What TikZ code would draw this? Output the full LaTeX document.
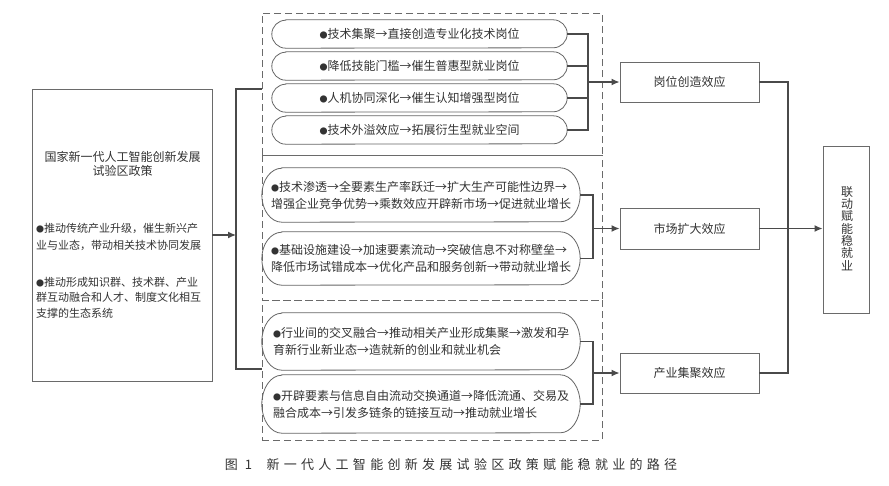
\documentclass[tikz,border=0pt]{standalone}
\usepackage{fontspec}
\setmainfont{Noto Sans CJK SC}
\newfontfamily\capfont[LetterSpace=33]{Noto Sans CJK SC}
\usetikzlibrary{arrows.meta,calc}
\definecolor{ln}{HTML}{4A4A4A}
\definecolor{bx}{HTML}{6A6A6A}
\definecolor{pl}{HTML}{666666}
\definecolor{tx}{HTML}{333333}
\newcommand{\bul}{{\fontsize{8}{8}\selectfont ●}}
\newcommand{\pillnode}[7]{%
  \node[ptxt, minimum width=#4pt, minimum height=#5pt, align=left] (#1) at (#2,#3) {#7};
  \draw[pillline] ([xshift=#6pt]#1.north west) -- ([xshift=-#6pt]#1.north east)
    arc[start angle=90,end angle=-90,x radius=#6pt,y radius=#5pt/2]
    -- ([xshift=#6pt]#1.south west)
    arc[start angle=270,end angle=90,x radius=#6pt,y radius=#5pt/2] -- cycle;}
\begin{document}
\begin{tikzpicture}[x=1pt,y=-1pt,
  sbox/.style={draw=bx, line width=0.9pt, inner sep=0pt, text=tx, font=\fontsize{12}{14}\selectfont},
  dbox/.style={draw=bx, dash pattern=on 7pt off 4pt, line width=0.9pt, inner sep=0pt},
  ptxt/.style={text=tx, inner sep=0pt, font=\fontsize{12}{17}\selectfont},
  ltxt/.style={text=tx, inner sep=0pt, align=left, anchor=west},
  pillline/.style={draw=pl, line width=0.8pt},
  conn/.style={draw=ln, line width=1.3pt},
  arr/.style={conn, -{Latex[length=8pt,width=7pt]}}]
\useasboundingbox[fill=white] (0,0) rectangle (889,485);

% left policy box
\node[sbox, minimum width=180pt, minimum height=292pt] (lb) at (122,235) {};
\node[text=tx, inner sep=0pt, align=center, font=\fontsize{12}{14.5}\selectfont] (ltitle) at (122.5,164) {国家新一代人工智能创新发展\\试验区政策};
\node[ltxt, font=\fontsize{11}{17.5}\selectfont] (lb1) at (36,237) {\bul 推动传统产业升级，催生新兴产\\业与业态，带动相关技术协同发展};
\node[ltxt, font=\fontsize{11}{15.5}\selectfont] (lb2) at (36,297.5) {\bul 推动形成知识群、技术群、产业\\群互动融合和人才、制度文化相互\\支撑的生态系统};

% dashed groups
\node[dbox, minimum width=340pt, minimum height=142pt] (g1) at (432,84) {};
\node[dbox, minimum width=340pt, minimum height=145pt] (g2) at (432,227.5) {};
\node[dbox, minimum width=340pt, minimum height=140pt] (g3) at (432,370) {};

% group 1 pills
\pillnode{p11}{419.5}{34}{295}{28}{14}{\bul 技术集聚→直接创造专业化技术岗位}
\pillnode{p12}{419.5}{66}{295}{28}{14}{\bul 降低技能门槛→催生普惠型就业岗位}
\pillnode{p13}{419.5}{98}{295}{28}{14}{\bul 人机协同深化→催生认知增强型岗位}
\pillnode{p14}{419.5}{130}{295}{28}{14}{\bul 技术外溢效应→拓展衍生型就业空间}

% group 2 pills
\pillnode{p21}{421}{195}{318}{54}{20}{\bul 技术渗透→全要素生产率跃迁→扩大生产可能性边界→\\增强企业竞争优势→乘数效应开辟新市场→促进就业增长}
\pillnode{p22}{421}{258.5}{318}{53}{20}{\bul 基础设施建设→加速要素流动→突破信息不对称壁垒→\\降低市场试错成本→优化产品和服务创新→带动就业增长}

% group 3 pills
\pillnode{p31}{421}{341.5}{318}{57}{20}{\bul 行业间的交叉融合→推动相关产业形成集聚→激发和孕\\育新行业新业态→造就新的创业和就业机会\hspace{5.5em}}
\pillnode{p32}{421}{404}{318}{58}{20}{\bul 开辟要素与信息自由流动交换通道→降低流通、交易及\\融合成本→引发多链条的链接互动→推动就业增长\hspace{3em}}

% effect boxes
\node[sbox, minimum width=139pt, minimum height=40pt] (e1) at (689.5,82) {岗位创造效应};
\node[sbox, minimum width=139pt, minimum height=41pt] (e2) at (689.5,228.5) {市场扩大效应};
\node[sbox, minimum width=139pt, minimum height=40pt] (e3) at (689.5,373) {产业集聚效应};

% final box
\node[sbox, minimum width=46pt, minimum height=167pt] (fin) at (846,229.5) {};
\node[text=tx, inner sep=0pt, align=center, font=\fontsize{12}{12.3}\selectfont] (fint) at (847,228.5) {联\\动\\赋\\能\\稳\\就\\业};

% left connectors
\coordinate (bk) at (236,235);
\coordinate (bt) at (236,89);
\coordinate (bb) at (236,369);
\coordinate (gt) at (262,89);
\coordinate (gb) at (262,369);
\draw[arr] (lb.east) -- (bk);
\draw[conn] (gt) -- (bt) -- (bb) -- (gb);

% group 1 joins
\coordinate (j1) at (588,82);
\draw[conn] (p11.east) -- (p11.east -| j1) -- (p14.east -| j1) -- (p14.east);
\draw[conn] (p12.east) -- (p12.east -| j1);
\draw[conn] (p13.east) -- (p13.east -| j1);
\draw[arr] (j1) -- (e1.west);

% group 2 joins
\coordinate (j2) at (593,228.5);
\draw[conn] (p21.east) -- (p21.east -| j2) -- (p22.east -| j2) -- (p22.east);
\draw[arr] (j2) -- (e2.west);

% group 3 joins
\coordinate (j3) at (593,373);
\draw[conn] (p31.east) -- (p31.east -| j3) -- (p32.east -| j3) -- (p32.east);
\draw[arr] (j3) -- (e3.west);

% right joins
\coordinate (rj) at (788,228.5);
\draw[conn] (e1.east) -- (e1.east -| rj) -- (e3.east -| rj) -- (e3.east);
\draw[arr] (e2.east) -- (e2.east -| fin.west);

% caption
\node[text=tx, inner sep=0pt, font=\capfont\fontsize{13}{15}\selectfont] (cap) at (451,465) {图 1\hspace{1.1em}新一代人工智能创新发展试验区政策赋能稳就业的路径};
\end{tikzpicture}
\end{document}
